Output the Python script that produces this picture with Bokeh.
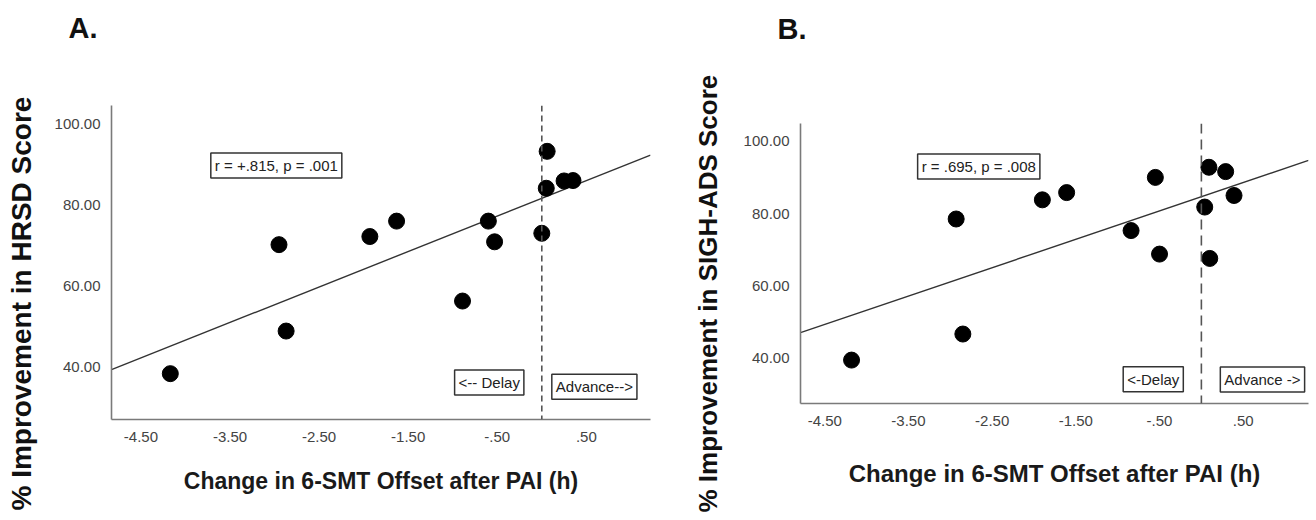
import numpy as np
from bokeh.plotting import figure
from bokeh.layouts import row, column
from bokeh.models import Label, Span, FixedTicker, Title, LinearAxis
from bokeh.embed import file_html
from bokeh.resources import INLINE

# ---------------- data ----------------
a_shift = [-4.17, -2.95, -2.87, -1.93, -1.63, -0.89, -0.60, -0.53, 0.00, 0.06, 0.05, 0.25, 0.35]
a_improve = [38.4, 70.2, 48.9, 72.2, 76.0, 56.3, 76.0, 70.9, 73.0, 93.2, 84.1, 85.9, 86.0]

b_shift = [-4.18, -2.93, -2.85, -1.90, -1.61, -0.84, -0.55, -0.50, 0.04, 0.09, 0.10, 0.29, 0.39]
b_improve = [39.5, 78.5, 46.7, 83.8, 85.8, 75.3, 90.0, 68.8, 81.8, 92.8, 67.6, 91.6, 85.0]

x_ticks = [-4.5, -3.5, -2.5, -1.5, -0.5, 0.5]
x_tick_labels = ["-4.50", "-3.50", "-2.50", "-1.50", "-.50", ".50"]
y_ticks = [40, 60, 80, 100]
y_tick_labels = ["40.00", "60.00", "80.00", "100.00"]

x_title = "Change in 6-SMT Offset after PAI (h)"
a_y_title = "% Improvement in HRSD Score"
b_y_title = "% Improvement in SIGH-ADS Score"
a_stat = "r = +.815, p = .001"
b_stat = "r = .695, p = .008"

FONT = "Liberation Sans"


def panel(xs, ys, frame, xr, yr, width, height, xlab_size, xlab_standoff, dash):
    left, right, top, bottom = frame
    p = figure(width=width, height=height, x_range=xr, y_range=yr,
               output_backend="svg", toolbar_location=None,
               min_border_left=left, min_border_right=width - right,
               min_border_top=top, min_border_bottom=height - bottom)
    p.title = None
    p.outline_line_color = None
    p.grid.visible = False
    p.background_fill_color = "white"
    p.border_fill_color = "white"

    p.xaxis.ticker = FixedTicker(ticks=x_ticks)
    p.xaxis.major_label_overrides = dict(zip(x_ticks, x_tick_labels))
    p.yaxis.ticker = FixedTicker(ticks=y_ticks)
    p.yaxis.major_label_overrides = dict(zip(y_ticks, y_tick_labels))
    for ax in (p.xaxis, p.yaxis):
        ax.axis_line_color = "#7a7a7a"
        ax.axis_line_width = 1.6
        ax.major_tick_line_color = None
        ax.minor_tick_line_color = None
        ax.major_tick_out = 0
        ax.major_tick_in = 0
        ax.major_label_text_font = FONT
        ax.major_label_text_font_size = "15px"
        ax.major_label_text_color = "#444444"
    p.xaxis.major_label_standoff = 12
    p.yaxis.major_label_standoff = 11

    p.xaxis.axis_label = x_title
    p.xaxis.axis_label_text_font = FONT
    p.xaxis.axis_label_text_font_style = "bold"
    p.xaxis.axis_label_text_font_size = xlab_size
    p.xaxis.axis_label_text_color = "#1a1a1a"
    p.xaxis.axis_label_standoff = xlab_standoff

    k, b0 = np.polyfit(np.array(xs), np.array(ys), 1)
    lx = np.array([xr[0], xr[1]])
    p.line(lx, k * lx + b0, line_color="#333333", line_width=1.4)

    p.add_layout(Span(location=0, dimension="height", line_color="#555555",
                      line_width=1.6, line_dash=dash))

    p.scatter(xs, ys, size=16, fill_color="black", line_color="black")
    return p


def title_spacer(p, size, side):
    """blank title used only as empty space in a side panel"""
    p.add_layout(Title(text=" ", text_font_size="10px", standoff=max(size - 13.5, 0)), side)


def axis_spacer(p, size, side, at):
    """an axis whose single white tick only reserves blank space in a side panel"""
    p.add_layout(LinearAxis(ticker=FixedTicker(ticks=[at]), major_label_overrides={at: ""},
                            major_tick_out=size, major_tick_in=0,
                            major_tick_line_color="white", minor_tick_line_color=None,
                            minor_tick_out=0, axis_line_color=None,
                            major_label_standoff=0), side)


def box_label(p, x, y, text):
    p.add_layout(Label(x=x, y=y, text=text, text_align="center", text_baseline="middle",
                       text_font=FONT, text_font_size="15px", text_color="#222222",
                       background_fill_color="white", border_line_color="#333333",
                       border_line_width=1.5, padding=4))


def panel_letter(p, text, offset):
    p.add_layout(Title(text=text, align="left", offset=offset, standoff=0,
                       vertical_align="bottom", text_font=FONT, text_font_size="29px",
                       text_font_style="bold", text_color="#111111"), "above")


def y_title(p, text, size, offset):
    p.add_layout(Title(text=text, align="left", offset=offset, standoff=0,
                       vertical_align="bottom", text_font=FONT, text_font_size=size,
                       text_font_style="bold", text_color="#111111"), "left")


H = 520
# -------- Panel A --------
fa = (111, 650, 105, 419)
pa = panel(a_shift, a_improve, fa, (-4.83, 1.22), (27.1, 104.5), 660, H, "23px", 23, "6 4")
box_label(pa, -2.98, 89.7, a_stat)
box_label(pa, -0.59, 36.2, "<-- Delay")
box_label(pa, 0.59, 35.2, "Advance-->")
title_spacer(pa, 62, "above")
panel_letter(pa, "A.", 68 - 111)
title_spacer(pa, 15, "left")
y_title(pa, a_y_title, "28px", 419 - 510)

# -------- Panel B --------
fb = (140, 648, 123, 403)
pb = panel(b_shift, b_improve, fb, (-4.79, 1.28), (27.5, 104.9), 656, H, "24px", 31, "10 6")
box_label(pb, -2.66, 93.0, b_stat)
box_label(pb, -0.575, 34.2, "<-Delay")
box_label(pb, 0.73, 34.1, "Advance ->")
axis_spacer(pb, 79, "above", 0)
panel_letter(pb, "B.", 777 - 800)
axis_spacer(pb, 18, "left", 60)
y_title(pb, b_y_title, "26px", 403 - 512)

layout = row(column(pa), column(pb))
open("out.html", "w").write(file_html(layout, INLINE))
